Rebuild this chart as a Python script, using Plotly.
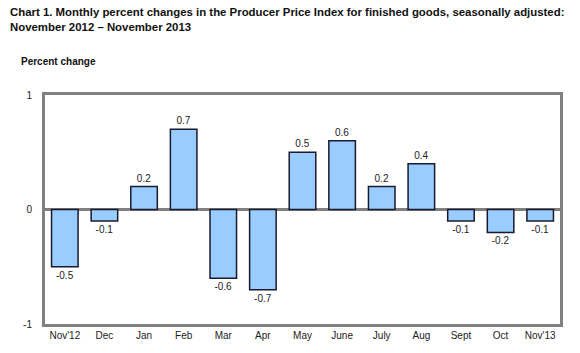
import plotly.graph_objects as go

months = ["Nov'12", "Dec", "Jan", "Feb", "Mar", "Apr", "May", "June", "July", "Aug", "Sept", "Oct", "Nov'13"]
pct_change = [-0.5, -0.1, 0.2, 0.7, -0.6, -0.7, 0.5, 0.6, 0.2, 0.4, -0.1, -0.2, -0.1]
y_ticks = [-1, 0, 1]

FONT = "Liberation Sans, Arial, sans-serif"

fig = go.Figure(go.Bar(
    x=months, y=pct_change,
    marker=dict(color="#99CCFF", line=dict(color="#1a1a2e", width=1.5)),
    text=[f"{v:.1f}" for v in pct_change],
    textposition="outside",
    textfont=dict(family=FONT, size=10, color="#222"),
    cliponaxis=False,
))

fig.update_layout(
    width=580, height=353,
    margin=dict(l=45, r=20, t=95, b=26),
    paper_bgcolor="white", plot_bgcolor="white",
    bargap=0.33,
    showlegend=False,
    font=dict(family=FONT, size=10, color="#222"),
)
fig.update_xaxes(
    showline=True, mirror=True, linecolor="#808080", linewidth=3,
    ticks="", showgrid=False,
    tickfont=dict(family=FONT, size=10, color="#222"),
)
fig.update_yaxes(
    range=[-1, 1], tickvals=y_ticks, ticktext=[str(t) for t in y_ticks],
    showline=True, mirror=True, linecolor="#808080", linewidth=3,
    showgrid=False, zeroline=True, zerolinecolor="#808080", zerolinewidth=3,
    ticks="", ticklabelstandoff=8,
    tickfont=dict(family=FONT, size=10, color="#222"),
)

fig.add_annotation(
    text="<b>Chart 1. Monthly percent changes in the Producer Price Index for finished goods, seasonally adjusted:<br>November 2012 \u2013 November 2013</b>",
    xref="paper", yref="paper", x=0, y=1, xanchor="left", yanchor="top",
    xshift=-37, yshift=91, align="left", showarrow=False,
    font=dict(family=FONT, size=11.4, color="#111"),
)
fig.add_annotation(
    text="<b>Percent change</b>",
    xref="paper", yref="paper", x=0, y=1, xanchor="left", yanchor="bottom",
    xshift=-26, yshift=26, showarrow=False,
    font=dict(family=FONT, size=10, color="#111"),
)

fig.write_html("out.html")
